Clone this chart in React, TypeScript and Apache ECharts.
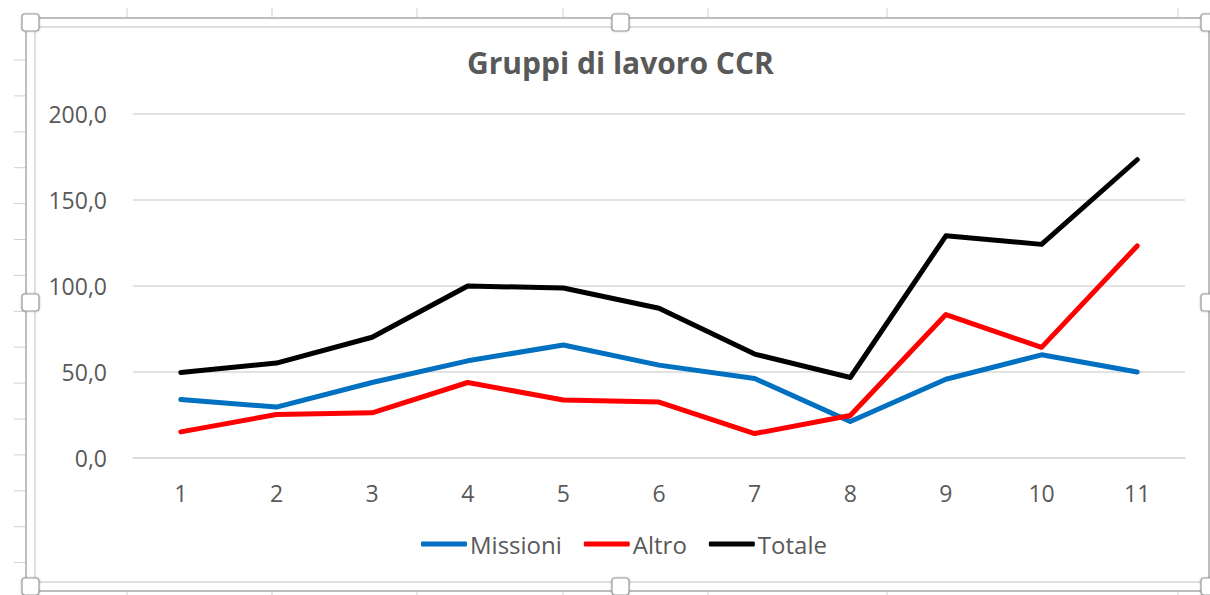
import React, { useEffect, useRef } from "react";
import * as echarts from "echarts";

const categories = ["1", "2", "3", "4", "5", "6", "7", "8", "9", "10", "11"];
const missioni = [34, 29.6, 43.9, 56.5, 65.7, 54, 46.2, 21.2, 45.8, 60, 50];
const altro = [15.2, 25.3, 26.3, 43.9, 33.7, 32.5, 14.2, 24.7, 83.4, 64.3, 123.3];
const totale = [49.7, 55.2, 70.2, 100, 98.8, 87.1, 60.4, 46.8, 129.2, 124.2, 173.4];
const seriesNames = ["Missioni", "Altro", "Totale"];
const seriesColors = ["#0070C0", "#FF0000", "#000000"];
const titleText = "Gruppi di lavoro CCR";

const FONT = "'Open Sans', 'Noto Sans', sans-serif";
const colTicks = [127, 272, 417, 563, 708, 887, 1178];

function buildGraphics() {
  const g: any[] = [];
  const outer = "#a8a8a8";
  const inner = "#d4d4d4";
  const cell = "#d0d0d0";
  colTicks.forEach((x) => {
    g.push({ type: "line", shape: { x1: x, y1: 8, x2: x, y2: 17 }, style: { stroke: cell, lineWidth: 1 }, silent: true });
    g.push({ type: "line", shape: { x1: x, y1: 592, x2: x, y2: 595 }, style: { stroke: cell, lineWidth: 1 }, silent: true });
  });
  for (let i = 0; i < 15; i++) {
    const y = 60 + i * 35.9;
    g.push({ type: "line", shape: { x1: 14, y1: y, x2: 26, y2: y }, style: { stroke: cell, lineWidth: 1 }, silent: true });
  }
  g.push({ type: "line", shape: { x1: 26, y1: 18, x2: 1210, y2: 18 }, style: { stroke: outer, lineWidth: 1.5 }, silent: true });
  g.push({ type: "line", shape: { x1: 26, y1: 18, x2: 26, y2: 591 }, style: { stroke: outer, lineWidth: 1.5 }, silent: true });
  g.push({ type: "line", shape: { x1: 26, y1: 591, x2: 1210, y2: 591 }, style: { stroke: outer, lineWidth: 1.5 }, silent: true });
  g.push({ type: "line", shape: { x1: 1209, y1: 18, x2: 1209, y2: 591 }, style: { stroke: outer, lineWidth: 1.5 }, silent: true });
  g.push({ type: "line", shape: { x1: 35, y1: 27, x2: 1210, y2: 27 }, style: { stroke: inner, lineWidth: 1.5 }, silent: true });
  g.push({ type: "line", shape: { x1: 35, y1: 27, x2: 35, y2: 582 }, style: { stroke: inner, lineWidth: 1.5 }, silent: true });
  g.push({ type: "line", shape: { x1: 35, y1: 582, x2: 1210, y2: 582 }, style: { stroke: inner, lineWidth: 1.5 }, silent: true });
  const handles = [
    [22, 14], [612, 14], [1201, 14],
    [22, 294], [1201, 294],
    [22, 578], [612, 578], [1201, 578],
  ];
  handles.forEach(([x, y]) => {
    g.push({
      type: "rect",
      shape: { x, y, width: 17, height: 17, r: 3 },
      style: { fill: "#ffffff", stroke: "#9a9a9a", lineWidth: 1.2, shadowBlur: 2, shadowColor: "rgba(0,0,0,0.25)" },
      silent: true,
      z: 100,
    });
  });
  return g;
}

export default function App() {
  const ref = useRef<HTMLDivElement>(null);
  useEffect(() => {
    if (!ref.current) return;
    const chart = echarts.init(ref.current, undefined, { renderer: "svg" });
    const data = [missioni, altro, totale];
    chart.setOption({
      animation: false,
      backgroundColor: "#ffffff",
      title: {
        text: titleText,
        left: 462,
        top: 42,
        textStyle: { fontFamily: FONT, fontSize: 30, fontWeight: "bold", color: "#595959" },
      },
      legend: {
        left: 421,
        top: 532,
        padding: 0,
        itemWidth: 46,
        itemHeight: 5,
        itemGap: 22,
        icon: "roundRect",
        data: seriesNames,
        textStyle: { fontFamily: FONT, fontSize: 24, color: "#595959", padding: [0, 0, 0, -2] },
      },
      grid: { left: 133, right: 25, top: 114, bottom: 137, containLabel: false },
      xAxis: {
        type: "category",
        data: categories,
        boundaryGap: true,
        axisLine: { lineStyle: { color: "#d9d9d9", width: 1.5 } },
        axisTick: { show: false },
        axisLabel: { fontFamily: FONT, fontSize: 23, color: "#595959", margin: 23 },
      },
      yAxis: {
        type: "value",
        min: 0,
        max: 200,
        interval: 50,
        axisLine: { show: false },
        axisTick: { show: false },
        splitLine: { lineStyle: { color: "#d9d9d9", width: 1.5 } },
        axisLabel: {
          fontFamily: FONT,
          fontSize: 23,
          color: "#595959",
          margin: 26,
          formatter: (v: number) => v.toFixed(1).replace(".", ","),
        },
      },
      series: seriesNames.map((name, i) => ({
        name,
        type: "line",
        data: data[i],
        symbol: "none",
        color: seriesColors[i],
        lineStyle: { color: seriesColors[i], width: 5, cap: "round", join: "round" },
        z: 2 + (i === 2 ? 1 : 0),
      })),
      graphic: buildGraphics(),
    });
    return () => chart.dispose();
  }, []);
  return (
    <div
      ref={ref}
      style={{ position: "fixed", left: 0, top: 0, width: 1210, height: 595 }}
    />
  );
}
